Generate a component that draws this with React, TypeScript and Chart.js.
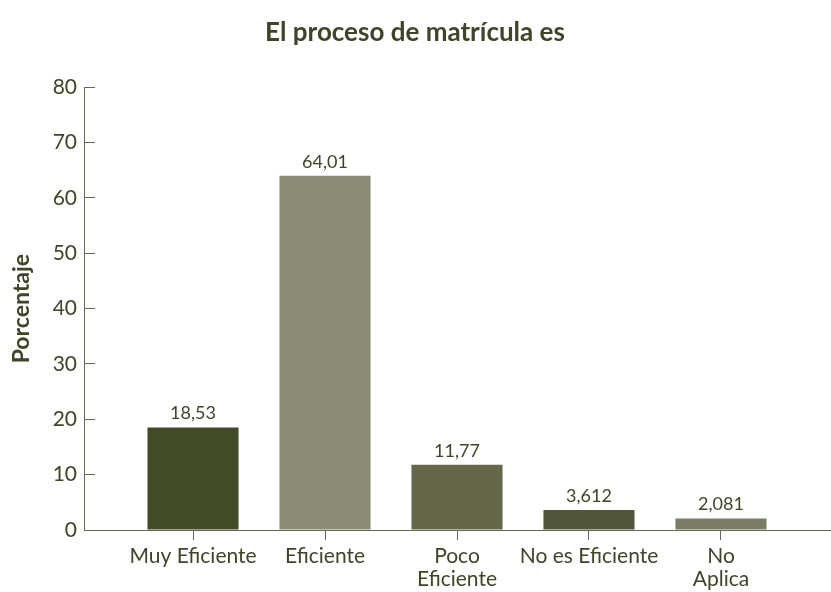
import React, { useEffect, useRef } from "react";
import { Chart, registerables } from "chart.js";

Chart.register(...registerables);

const categories: string[][] = [
  ["Muy Eficiente"],
  ["Eficiente"],
  ["Poco", "Eficiente"],
  ["No es Eficiente"],
  ["No", "Aplica"],
];
const values: number[] = [18.53, 64.01, 11.77, 3.612, 2.081];
const valueLabels: string[] = ["18,53", "64,01", "11,77", "3,612", "2,081"];
const barColors: string[] = ["#434A28", "#898B74", "#646849", "#51553A", "#7A7C63"];
const yTicks: number[] = [0, 10, 20, 30, 40, 50, 60, 70, 80];

const FONT = "Lato, 'Open Sans', sans-serif";
const TEXT = "#40452A";
const AXIS = "#666A50";

const valueLabelPlugin = {
  id: "valueLabels",
  afterDatasetsDraw(chart: any) {
    const ctx = chart.ctx;
    const meta = chart.getDatasetMeta(0);
    ctx.save();
    ctx.font = `18px ${FONT}`;
    ctx.fillStyle = TEXT;
    ctx.textAlign = "center";
    ctx.textBaseline = "bottom";
    meta.data.forEach((bar: any, i: number) => {
      ctx.fillText(valueLabels[i], bar.x, bar.y - 5);
    });
    ctx.restore();
  },
};

export default function App() {
  const ref = useRef<HTMLCanvasElement | null>(null);

  useEffect(() => {
    if (!ref.current) return;
    const chart = new Chart(ref.current, {
      type: "bar",
      data: {
        datasets: [
          {
            data: values.map((v, i) => ({ x: i, y: v })),
            backgroundColor: barColors,
            borderWidth: 0,
            barPercentage: 0.69,
            categoryPercentage: 1,
          },
        ],
      },
      options: {
        animation: false,
        responsive: false,
        devicePixelRatio: 1,
        layout: { padding: { left: 0, right: 43, top: 0, bottom: 0 } },
        plugins: {
          legend: { display: false },
          tooltip: { enabled: false },
          title: {
            display: true,
            text: "El proceso de matrícula es",
            color: TEXT,
            font: { family: FONT, size: 26, weight: "bold", lineHeight: 1.2 },
            padding: { top: 17, bottom: 39 },
          },
        },
        scales: {
          x: {
            type: "linear",
            offset: false,
            min: -0.826,
            max: 4.826,
            afterBuildTicks: (scale: any) => {
              scale.ticks = categories.map((_, i) => ({ value: i }));
            },
            afterFit: (scale: any) => {
              scale.height = 62;
            },
            ticks: {
              color: TEXT,
              font: { family: FONT, size: 21, lineHeight: 1.1 },
              padding: 5,
              maxRotation: 0,
              autoSkip: false,
              callback: (v: any) => categories[Math.round(Number(v))] ?? "",
            },
            grid: {
              display: true,
              offset: false,
              drawOnChartArea: false,
              drawTicks: true,
              tickLength: 10,
              color: AXIS,
            },
            border: { display: true, color: AXIS, width: 1 },
          },
          y: {
            min: 0,
            max: 80,
            afterBuildTicks: (scale: any) => {
              scale.ticks = yTicks.map((v) => ({ value: v }));
            },
            afterFit: (scale: any) => {
              scale.width = 84;
            },
            ticks: {
              color: TEXT,
              font: { family: FONT, size: 21 },
              padding: 18,
            },
            grid: {
              display: true,
              drawOnChartArea: false,
              drawTicks: true,
              tickLength: -11,
              color: AXIS,
            },
            border: { display: true, color: AXIS, width: 1 },
            title: {
              display: true,
              text: "Porcentaje",
              color: TEXT,
              font: { family: FONT, size: 23, weight: "bold", lineHeight: 1.2 },
              padding: { top: 8, bottom: 0 },
            },
          },
        },
      },
      plugins: [valueLabelPlugin],
    } as any);
    return () => chart.destroy();
  }, []);

  return (
    <div
      style={{
        position: "absolute",
        left: 0,
        top: 0,
        width: 831,
        height: 592,
        overflow: "hidden",
        background: "#ffffff",
      }}
    >
      <canvas ref={ref} width={873} height={592} style={{ display: "block" }} />
    </div>
  );
}
